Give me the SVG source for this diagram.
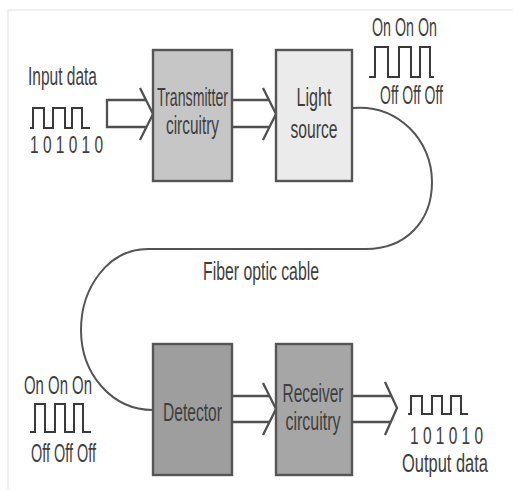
<svg xmlns="http://www.w3.org/2000/svg" width="513" height="492" viewBox="0 0 513 492">
<style>
text{font-family:"Liberation Sans",Arial,sans-serif;fill:#3e3e3e;font-size:25px}
.small{font-size:23px}
.box{stroke:#555;stroke-width:2.4}
.arrow{fill:none;stroke:#505050;stroke-width:2.3;stroke-linejoin:miter}
.wave{fill:none;stroke:#3a3a3a;stroke-width:2}
.cable{fill:none;stroke:#555;stroke-width:2}
.frame{stroke:#ececec;stroke-width:1.5;fill:none}
</style>
<rect width="513" height="492" fill="#fff"/>
<path class="frame" d="M8,490 V10 H513"/>

<g id="connectors">
  <path class="arrow" d="M146,100 H107 V127 H146.5 M140,88 L153,114 L140,140"/>
  <path class="arrow" d="M232,100 H269 M232,127 H269.5 M263,88 L276,114 L263,140"/>
  <path class="arrow" d="M232,396 H269 M232,422 H269 M263,383 L276,409 L263,435"/>
  <path class="arrow" d="M352,396 H391 M352,422 H391 M385,382 L397,408 L385,435"/>
  <path class="cable" d="M352,108 C398,104 432,140 432,182 C432,222 405,249 366,249 L148,249 C108,249 81,288 81,330 C81,374 112,410 153,410"/>
  <text x="203" y="280" textLength="116" lengthAdjust="spacingAndGlyphs">Fiber optic cable</text>
</g>

<g id="input">
  <text x="28" y="85" textLength="69" lengthAdjust="spacingAndGlyphs">Input data</text>
  <path class="wave" d="M30,128 H33 V108 H44 V128 H53 V108 H65 V128 H72 V108 H82 V128 H90"/>
  <text class="small" x="30" y="153" textLength="73" lengthAdjust="spacingAndGlyphs">1 0 1 0 1 0</text>
</g>

<g id="transmitter">
  <rect class="box" x="153" y="50" width="79" height="131" fill="#c6c6c6"/>
  <text x="192.5" y="106" text-anchor="middle" textLength="71" lengthAdjust="spacingAndGlyphs">Transmitter</text>
  <text x="192.5" y="134" text-anchor="middle" textLength="53" lengthAdjust="spacingAndGlyphs">circuitry</text>
</g>

<g id="light-source">
  <rect class="box" x="276" y="50" width="76" height="131" fill="#ebebeb"/>
  <text x="314" y="106" text-anchor="middle" textLength="35" lengthAdjust="spacingAndGlyphs">Light</text>
  <text x="314" y="138" text-anchor="middle" textLength="47" lengthAdjust="spacingAndGlyphs">source</text>
</g>

<g id="tx-signal">
  <text x="372" y="36" textLength="65" lengthAdjust="spacingAndGlyphs">On On On</text>
  <path class="wave" d="M369,77 H375 V47 H388 V77 H399 V47 H411 V77 H420 V47 H430 V77 H434"/>
  <text x="380" y="104" textLength="63" lengthAdjust="spacingAndGlyphs">Off Off Off</text>
</g>

<g id="detector">
  <rect class="box" x="153" y="344" width="79" height="131" fill="#9e9e9e"/>
  <text x="192.5" y="421" text-anchor="middle" textLength="59" lengthAdjust="spacingAndGlyphs">Detector</text>
</g>

<g id="rx-signal">
  <text x="24" y="394" textLength="68" lengthAdjust="spacingAndGlyphs">On On On</text>
  <path class="wave" d="M30,432 H35 V404 H45 V432 H55 V404 H65 V432 H74 V404 H83 V432 H91"/>
  <text x="31" y="462" textLength="65" lengthAdjust="spacingAndGlyphs">Off Off Off</text>
</g>

<g id="receiver">
  <rect class="box" x="276" y="344" width="76" height="131" fill="#a6a6a6"/>
  <text x="313" y="402" text-anchor="middle" textLength="61" lengthAdjust="spacingAndGlyphs">Receiver</text>
  <text x="313" y="430" text-anchor="middle" textLength="55" lengthAdjust="spacingAndGlyphs">circuitry</text>
</g>

<g id="output">
  <path class="wave" d="M408,414 H411 V396 H422 V414 H432 V396 H442 V414 H451 V396 H461 V414 H468"/>
  <text class="small" transform="translate(410,444) scale(0.672,1)">1 0 1 0 1 0</text>
  <text transform="translate(402,472) scale(0.658,1)">Output data</text>
</g>
</svg>
